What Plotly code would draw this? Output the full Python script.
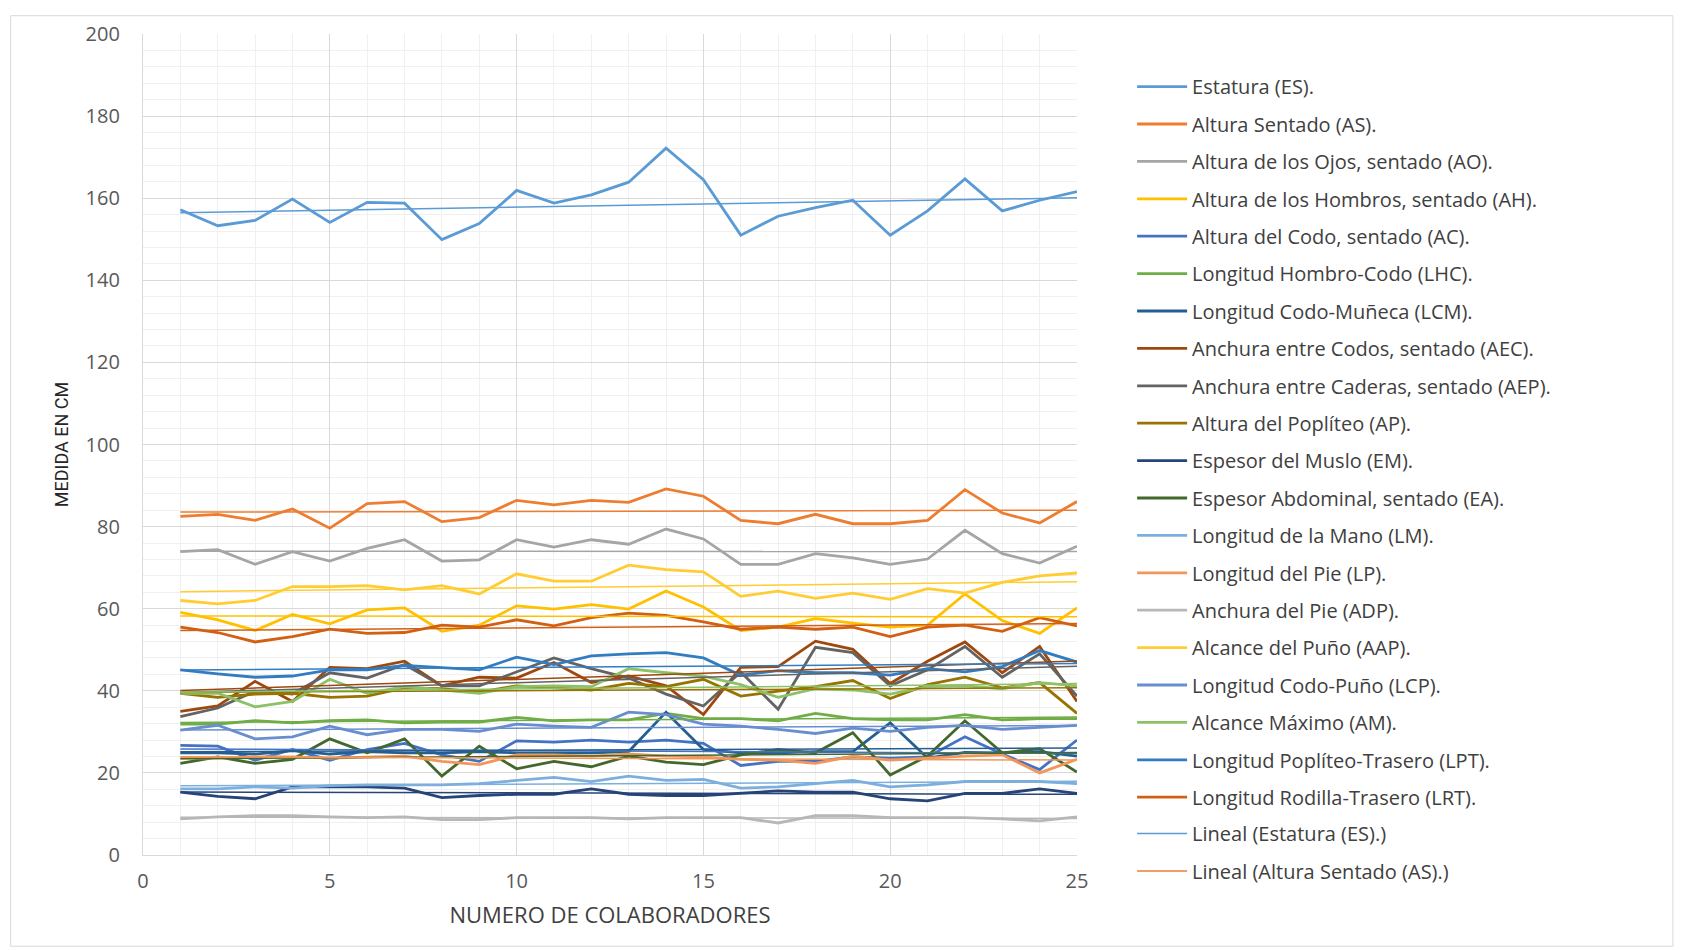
import plotly.graph_objects as go
import numpy as np

colaboradores = list(range(1, 26))

# medidas por colaborador (cm)
estatura = [157.2, 153.3, 154.6, 159.8, 154.1, 159.0, 158.8, 149.9, 153.8, 161.9, 158.8, 160.8, 163.9,
            172.2, 164.5, 151.0, 155.6, 157.7, 159.5, 151.0, 156.9, 164.7, 156.9, 159.5, 161.6]
altura_sentado = [82.5, 83.0, 81.5, 84.3, 79.6, 85.6, 86.1, 81.2, 82.2, 86.4, 85.3, 86.4, 85.9,
                  89.2, 87.4, 81.5, 80.7, 83.0, 80.7, 80.7, 81.5, 89.0, 83.3, 80.9, 86.1]
altura_ojos = [73.9, 74.4, 70.8, 73.9, 71.6, 74.7, 76.8, 71.6, 71.9, 76.8, 75.0, 76.8, 75.7,
               79.4, 77.0, 70.8, 70.8, 73.4, 72.4, 70.8, 72.1, 79.1, 73.4, 71.1, 75.2]
altura_hombros = [59.1, 57.3, 54.7, 58.6, 56.3, 59.7, 60.2, 54.5, 56.0, 60.7, 59.9, 61.0, 59.9,
                  64.3, 60.4, 54.7, 55.5, 57.6, 56.5, 55.5, 56.0, 63.6, 57.1, 54.0, 60.2]
altura_codo = [26.7, 26.5, 23.1, 25.7, 23.1, 25.7, 27.2, 24.4, 22.8, 27.8, 27.5, 28.0, 27.5,
               28.0, 27.2, 21.8, 22.8, 22.8, 23.9, 23.6, 23.9, 28.8, 24.6, 20.8, 28.0]
hombro_codo = [31.9, 31.9, 32.7, 32.2, 32.7, 32.9, 32.2, 32.4, 32.4, 33.5, 32.7, 32.9, 32.9,
               34.5, 33.2, 33.2, 32.7, 34.5, 33.2, 32.9, 32.9, 34.2, 32.9, 33.2, 33.2]
codo_muneca = [24.9, 24.9, 24.6, 25.4, 24.6, 25.2, 24.9, 24.9, 25.2, 24.9, 24.9, 24.9, 25.2,
               34.8, 25.7, 24.9, 24.9, 25.2, 25.2, 32.2, 23.6, 25.0, 24.9, 25.2, 24.1]
anchura_codos = [35.0, 36.3, 42.3, 37.4, 45.7, 45.4, 47.2, 41.2, 43.3, 43.1, 46.9, 42.0, 43.6,
                 41.2, 34.2, 45.7, 45.9, 52.1, 50.1, 41.8, 47.2, 51.9, 44.4, 50.8, 37.4]
anchura_caderas = [33.7, 35.8, 39.9, 39.2, 44.4, 43.1, 46.4, 41.2, 41.2, 44.6, 48.0, 45.4, 43.1,
                   39.2, 36.3, 44.6, 35.5, 50.6, 49.3, 41.2, 45.1, 50.8, 43.3, 49.0, 38.7]
altura_popliteo = [39.4, 38.4, 39.2, 39.4, 38.4, 38.7, 40.7, 40.5, 39.7, 41.2, 40.7, 40.2, 41.8,
                   41.0, 42.8, 38.7, 39.9, 41.0, 42.5, 38.1, 41.5, 43.3, 40.7, 42.0, 34.5]
espesor_muslo = [15.3, 14.3, 13.7, 16.6, 16.6, 16.6, 16.3, 14.0, 14.5, 14.8, 14.8, 16.1, 14.8,
                 14.5, 14.5, 15.0, 15.6, 15.3, 15.3, 13.7, 13.2, 15.0, 15.0, 16.1, 15.0]
espesor_abdominal = [22.3, 23.9, 22.3, 23.3, 28.3, 24.9, 28.3, 19.2, 26.5, 21.0, 22.8, 21.5, 24.1,
                     22.6, 22.0, 24.4, 25.7, 24.9, 29.8, 19.5, 24.1, 32.7, 24.9, 25.9, 20.2]
longitud_mano = [16.1, 16.1, 16.6, 16.3, 16.9, 17.1, 17.1, 17.1, 17.4, 18.2, 18.9, 17.9, 19.2,
                 18.2, 18.4, 16.3, 16.6, 17.4, 18.2, 16.6, 17.1, 17.9, 17.9, 17.9, 17.4]
longitud_pie = [23.6, 23.6, 23.9, 23.9, 23.6, 23.9, 24.1, 22.8, 22.0, 24.4, 24.4, 24.1, 24.6,
                24.1, 23.9, 23.3, 23.1, 22.3, 24.1, 23.1, 23.6, 24.1, 24.4, 20.0, 23.3]
anchura_pie = [8.8, 9.3, 9.6, 9.6, 9.3, 9.1, 9.3, 8.6, 8.6, 9.1, 9.1, 9.1, 8.8,
               9.1, 9.1, 9.1, 7.8, 9.6, 9.6, 9.1, 9.1, 9.1, 8.8, 8.3, 9.3]
alcance_puno = [62.0, 61.2, 62.0, 65.4, 65.4, 65.6, 64.6, 65.6, 63.6, 68.5, 66.7, 66.7, 70.6,
                69.5, 69.0, 63.0, 64.3, 62.5, 63.8, 62.3, 64.9, 63.8, 66.4, 68.0, 68.7]
codo_puno = [30.4, 31.6, 28.3, 28.8, 31.4, 29.3, 30.6, 30.6, 30.1, 31.9, 31.4, 31.1, 34.8,
             34.2, 31.9, 31.4, 30.6, 29.6, 30.9, 30.1, 31.1, 31.6, 30.6, 31.1, 31.6]
alcance_maximo = [39.4, 39.4, 36.1, 37.4, 42.8, 39.4, 41.0, 40.2, 39.4, 41.0, 41.2, 41.0, 45.4,
                  44.4, 43.6, 41.5, 38.4, 40.5, 40.2, 39.2, 41.0, 41.2, 40.5, 42.0, 41.2]
popliteo_trasero = [45.1, 44.1, 43.3, 43.6, 45.1, 45.1, 46.2, 45.7, 45.1, 48.2, 46.4, 48.5, 49.0,
                    49.3, 48.0, 43.8, 44.9, 44.4, 44.4, 43.8, 45.4, 44.6, 45.9, 49.8, 47.0]
rodilla_trasero = [55.5, 54.2, 51.9, 53.2, 55.0, 54.0, 54.2, 56.0, 55.5, 57.3, 55.8, 57.8, 58.9,
                   58.4, 56.8, 55.0, 55.5, 55.0, 55.5, 53.2, 55.5, 56.0, 54.5, 57.8, 55.8]

series = [
    ('Estatura (ES).', estatura, '#5B9BD5'),
    ('Altura Sentado (AS).', altura_sentado, '#ED7D31'),
    ('Altura de los Ojos, sentado (AO).', altura_ojos, '#A5A5A5'),
    ('Altura de los Hombros, sentado (AH).', altura_hombros, '#FFC000'),
    ('Altura del Codo, sentado (AC).', altura_codo, '#4472C4'),
    ('Longitud Hombro-Codo (LHC).', hombro_codo, '#70AD47'),
    ('Longitud Codo-Muñeca (LCM).', codo_muneca, '#255E91'),
    ('Anchura entre Codos, sentado (AEC).', anchura_codos, '#9E480E'),
    ('Anchura entre Caderas, sentado (AEP).', anchura_caderas, '#636363'),
    ('Altura del Poplíteo (AP).', altura_popliteo, '#997300'),
    ('Espesor del Muslo (EM).', espesor_muslo, '#264478'),
    ('Espesor Abdominal, sentado (EA).', espesor_abdominal, '#43682B'),
    ('Longitud de la Mano (LM).', longitud_mano, '#7CAFDD'),
    ('Longitud del Pie (LP).', longitud_pie, '#F1975A'),
    ('Anchura del Pie (ADP).', anchura_pie, '#B7B7B7'),
    ('Alcance del Puño (AAP).', alcance_puno, '#FFCD33'),
    ('Longitud Codo-Puño (LCP).', codo_puno, '#698ED0'),
    ('Alcance Máximo (AM).', alcance_maximo, '#8CC168'),
    ('Longitud Poplíteo-Trasero (LPT).', popliteo_trasero, '#327DC2'),
    ('Longitud Rodilla-Trasero (LRT).', rodilla_trasero, '#D26012'),
]

FONT = 'Open Sans, Lato, sans-serif'

fig = go.Figure()

for i, (name, vals, color) in enumerate(series):
    fig.add_trace(go.Scatter(
        x=colaboradores, y=vals, mode='lines', name=name,
        legendgroup='s%d' % i,
        line=dict(color=color, width=2.8)
    ))

# lineas de tendencia (regresion lineal, como en Excel)
xs = np.array(colaboradores)
for i, (name, vals, color) in enumerate(series):
    m, b = np.polyfit(xs, np.array(vals), 1)
    fig.add_trace(go.Scatter(
        x=[xs[0], xs[-1]], y=[m * xs[0] + b, m * xs[-1] + b], mode='lines',
        name='Lineal (' + name + ')',
        legendgroup='t%d' % i,
        legend='legend2',
        showlegend=i < 2,
        line=dict(color=color, width=1.5)
    ))

legend_style = dict(
    x=1.059, xanchor='left', yanchor='top',
    font=dict(size=20, color='#404040', family=FONT),
    tracegroupgap=8.4, itemwidth=50,
    bgcolor='rgba(0,0,0,0)'
)

# la pagina tiene 8px de margen en el body
fig.update_layout(
    width=1676, height=942,
    margin=dict(l=135, r=607, t=19, b=95),
    paper_bgcolor='white', plot_bgcolor='white',
    font=dict(family=FONT, color='#404040'),
    xaxis=dict(
        range=[0, 25], dtick=5, tick0=0,
        showgrid=True, gridcolor='#D9D9D9', gridwidth=1.3,
        minor=dict(dtick=1, showgrid=True, gridcolor='#F0F0F0', gridwidth=1.3),
        showline=True, linecolor='#D9D9D9', linewidth=1.3,
        zeroline=False, ticks='',
        tickfont=dict(size=20, color='#595959', family=FONT),
        ticklabelstandoff=8,
        title=dict(text='NUMERO DE COLABORADORES', standoff=14,
                   font=dict(size=22, color='#404040', family=FONT)),
    ),
    yaxis=dict(
        range=[0, 200], dtick=20, tick0=0,
        showgrid=True, gridcolor='#D9D9D9', gridwidth=1.3,
        minor=dict(dtick=4, showgrid=True, gridcolor='#F0F0F0', gridwidth=1.3),
        showline=True, linecolor='#D9D9D9', linewidth=1.3,
        zeroline=False, ticks='',
        tickfont=dict(size=20, color='#595959', family=FONT),
        ticklabelstandoff=18,
        title=dict(text='MEDIDA EN CM', standoff=12,
                   font=dict(size=18, color='#262626', family='Liberation Sans Narrow, Roboto, sans-serif')),
    ),
    legend=dict(y=0.9597, **legend_style),
    legend2=dict(y=0.0498, **legend_style),
    shapes=[dict(type='rect', xref='paper', yref='paper',
                 x0=-0.1417, y0=-0.1111, x1=1.638, y1=1.0223,
                 line=dict(color='#D9D9D9', width=1), layer='below')],
    showlegend=True,
)

fig.write_html('out.html')
